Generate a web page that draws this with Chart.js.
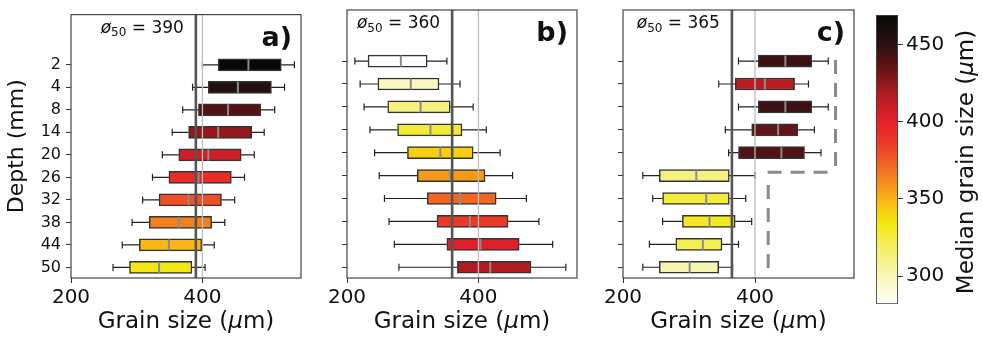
<!DOCTYPE html>
<html>
<head>
<meta charset="utf-8">
<script src="https://cdn.jsdelivr.net/npm/chart.js@4.4.1/dist/chart.umd.min.js"></script>
<style>
body { margin: 0; background: #fff; width: 983px; height: 337px; position: relative; overflow: hidden; }
canvas { position: absolute; top: 0; }
</style>
</head>
<body>
<canvas id="pa" width="310" height="337" style="left:0px"></canvas>
<canvas id="pb" width="266" height="337" style="left:320px"></canvas>
<canvas id="pc" width="263" height="337" style="left:596px"></canvas>
<canvas id="cb" width="123" height="337" style="left:860px"></canvas>
<script>
// depth categories (mm)
const depths = ['2', '4', '8', '14', '20', '26', '32', '38', '44', '50'];
const xTicks = [200, 400];
const cbTicks = [300, 350, 400, 450];

// panel a) whisker low, q1, median, q3, whisker high (µm)
const aLow  = [400, 385, 370, 354, 339, 324, 309, 293, 278, 264];
const aQ1   = [424, 409, 394, 379, 364, 349, 334, 319, 304, 289];
const aMed  = [470, 454, 439, 424, 409, 394, 379, 364, 349, 334];
const aQ3   = [520, 505, 489, 475, 459, 444, 429, 414, 399, 384];
const aHigh = [540, 525, 510, 494, 479, 464, 449, 434, 418, 404];
const aD50 = 390;

// panel b)
const bLow  = [212, 220, 226, 235, 242, 249, 257, 264, 272, 279];
const bQ1   = [232, 247, 262, 277, 292, 307, 322, 337, 352, 368];
const bMed  = [282, 297, 312, 327, 342, 357, 372, 387, 403, 418];
const bQ3   = [322, 340, 357, 375, 392, 410, 427, 445, 462, 480];
const bHigh = [352, 372, 392, 412, 433, 452, 473, 492, 513, 533];
const bD50 = 360;

// panel c)
const cLow  = [375, 345, 375, 355, 360, 230, 245, 260, 240, 230];
const cQ1   = [405, 370, 405, 395, 375, 255, 260, 290, 280, 255];
const cMed  = [446, 415, 446, 435, 440, 311, 326, 331, 321, 301];
const cQ3   = [486, 460, 486, 465, 475, 361, 361, 370, 350, 345];
const cHigh = [511, 481, 511, 490, 500, 400, 386, 395, 375, 366];
const cD50 = 365;
// dashed outline in c): three segments, grain size vs row index
const outlineX = [[522, 522], [510, 419], [420, 420]];
const outlineY = [[-0.05, 4.63], [4.85, 4.85], [5.41, 9.08]];

// colour scale of the median
const cbMin = 282, cbMax = 469;
const cmapStops = [
  [282, '#ffffff'], [305, '#f7f3a0'], [322, '#f4ee50'], [335, '#f3e60c'],
  [345, '#f8c512'], [358, '#f7961c'], [372, '#f06622'], [386, '#ec3a26'],
  [400, '#e8202a'], [418, '#b01b21'], [433, '#6a1414'], [450, '#2c1012'],
  [469, '#080808']
];

Chart.defaults.font.family = "'DejaVu Sans', sans-serif";
Chart.defaults.color = '#111';

function hex(c) {
  return [1, 3, 5].map(k => parseInt(c.substr(k, 2), 16));
}
function cmap(v) {
  if (v <= cmapStops[0][0]) return cmapStops[0][1];
  for (let k = 1; k < cmapStops.length; k++) {
    const [v1, c1] = cmapStops[k];
    if (v <= v1) {
      const [v0, c0] = cmapStops[k - 1];
      const t = (v - v0) / (v1 - v0);
      const a = hex(c0), b = hex(c1);
      return 'rgb(' + a.map((u, j) => Math.round(u + (b[j] - u) * t)).join(',') + ')';
    }
  }
  return cmapStops[cmapStops.length - 1][1];
}

// text made of pieces, some italic (for the µ)
function drawPieces(ctx, pieces, size, cx, y) {
  const fonts = pieces.map(p => (p[1] ? 'italic ' : '') + size + "px 'DejaVu Sans'");
  let w = 0;
  pieces.forEach((p, k) => { ctx.font = fonts[k]; w += ctx.measureText(p[0]).width; });
  let x = cx - w / 2;
  ctx.textAlign = 'left';
  ctx.textBaseline = 'alphabetic';
  pieces.forEach((p, k) => {
    ctx.font = fonts[k];
    ctx.fillText(p[0], x, y);
    x += ctx.measureText(p[0]).width;
  });
}
const umTitle = label => [[label + ' (', false], ['μ', true], ['m)', false]];

function boxPanel(id, low, q1, med, q3, high, d50, tag, showY, yWidth, padRight, outline) {
  const datasets = [{
    data: depths.map((d, i) => ({ x: [q1[i], q3[i]], y: i })),
    backgroundColor: med.map(cmap),
    borderColor: '#333',
    borderWidth: 1.5,
    borderSkipped: false,
    barThickness: 12
  }];

  const boxExtras = {
    id: 'boxExtras',
    afterDatasetsDraw(chart) {
      const { ctx, chartArea: a, scales: { x, y } } = chart;
      ctx.save();
      // whiskers + caps
      ctx.strokeStyle = '#222';
      ctx.lineWidth = 1.2;
      depths.forEach((d, i) => {
        const yp = y.getPixelForValue(i);
        const pl = x.getPixelForValue(low[i]), p1 = x.getPixelForValue(q1[i]);
        const p3 = x.getPixelForValue(q3[i]), ph = x.getPixelForValue(high[i]);
        ctx.beginPath();
        ctx.moveTo(pl, yp); ctx.lineTo(p1, yp);
        ctx.moveTo(p3, yp); ctx.lineTo(ph, yp);
        ctx.moveTo(pl, yp - 3.5); ctx.lineTo(pl, yp + 3.5);
        ctx.moveTo(ph, yp - 3.5); ctx.lineTo(ph, yp + 3.5);
        ctx.stroke();
      });
      // medians
      ctx.strokeStyle = '#8c8c8c';
      ctx.lineWidth = 2;
      depths.forEach((d, i) => {
        const yp = y.getPixelForValue(i);
        const pm = x.getPixelForValue(med[i]);
        ctx.beginPath();
        ctx.moveTo(pm, yp - 5.5); ctx.lineTo(pm, yp + 5.5);
        ctx.stroke();
      });
      // dashed outline
      if (outline) {
        ctx.strokeStyle = '#8a8a8a';
        ctx.lineWidth = 3;
        ctx.setLineDash([14, 9]);
        outlineX.forEach((sx, k) => {
          ctx.beginPath();
          ctx.moveTo(x.getPixelForValue(sx[0]), y.getPixelForValue(outlineY[k][0]));
          ctx.lineTo(x.getPixelForValue(sx[1]), y.getPixelForValue(outlineY[k][1]));
          ctx.stroke();
        });
        ctx.setLineDash([]);
      }
      // light line at 400 and d50 line
      ctx.strokeStyle = '#bdbdbd';
      ctx.lineWidth = 1.3;
      let px = x.getPixelForValue(400);
      ctx.beginPath(); ctx.moveTo(px, a.top); ctx.lineTo(px, a.bottom); ctx.stroke();
      ctx.strokeStyle = '#555';
      ctx.lineWidth = 2.6;
      const pd = x.getPixelForValue(d50);
      ctx.beginPath(); ctx.moveTo(pd, a.top); ctx.lineTo(pd, a.bottom); ctx.stroke();
      // frame
      ctx.strokeStyle = '#444';
      ctx.lineWidth = 1.2;
      ctx.strokeRect(a.left, a.top, a.width, a.height);
      // ø50 label, right-aligned left of the d50 line
      ctx.fillStyle = '#111';
      ctx.textBaseline = 'alphabetic';
      ctx.textAlign = 'left';
      const ty = a.top + 18;
      const f1 = "italic 17px 'DejaVu Sans'", f2 = "12px 'DejaVu Sans'", f3 = "17px 'DejaVu Sans'";
      const rest = ' = ' + d50;
      ctx.font = f1; const w1 = ctx.measureText('ø').width;
      ctx.font = f2; const w2 = ctx.measureText('50').width;
      ctx.font = f3; const w3 = ctx.measureText(rest).width;
      let tx = pd - 12 - (w1 + w2 + w3);
      ctx.font = f1; ctx.fillText('ø', tx, ty); tx += w1;
      ctx.font = f2; ctx.fillText('50', tx, ty + 3.5); tx += w2;
      ctx.font = f3; ctx.fillText(rest, tx, ty);
      // panel tag
      ctx.font = "bold 27px 'DejaVu Sans'";
      ctx.textAlign = 'right';
      ctx.fillText(tag, a.right - 9, a.top + 31);
      // x axis title
      drawPieces(ctx, umTitle('Grain size'), 23, (a.left + a.right) / 2, 328);
      ctx.restore();
    }
  };

  return new Chart(document.getElementById(id), {
    type: 'bar',
    data: { datasets: datasets },
    options: {
      indexAxis: 'y',
      responsive: false,
      animation: false,
      layout: { padding: { top: 10, right: padRight, bottom: 0, left: 0 } },
      plugins: { legend: { display: false }, tooltip: { enabled: false } },
      scales: {
        x: {
          type: 'linear',
          min: 200,
          max: 550,
          afterBuildTicks: s => { s.ticks = xTicks.map(v => ({ value: v })); },
          afterFit: s => { s.height = 59; },
          ticks: { font: { size: 20 }, color: '#111', padding: 3, maxRotation: 0 },
          grid: { drawOnChartArea: false, tickLength: 5, color: '#333' },
          border: { display: false }
        },
        y: {
          type: 'linear',
          min: -2.23,
          max: 9.47,
          reverse: true,
          offset: false,
          afterBuildTicks: s => { s.ticks = depths.map((d, i) => ({ value: i })); },
          afterFit: s => { s.width = yWidth; },
          ticks: {
            display: showY,
            autoSkip: false,
            font: { size: 16 },
            color: '#111',
            padding: 5,
            callback: v => depths[v]
          },
          grid: { drawOnChartArea: false, tickLength: 5, color: '#333', offset: false },
          border: { display: false },
          title: {
            display: showY,
            text: 'Depth (mm)',
            font: { size: 22 },
            color: '#111',
            padding: { top: 4, bottom: 0 }
          }
        }
      }
    },
    plugins: [boxExtras]
  });
}

boxPanel('pa', aLow, aQ1, aMed, aQ3, aHigh, aD50, 'a)', true, 71, 9, false);
boxPanel('pb', bLow, bQ1, bMed, bQ3, bHigh, bD50, 'b)', false, 27, 9, false);
boxPanel('pc', cLow, cQ1, cMed, cQ3, cHigh, cD50, 'c)', false, 27, 5, true);

// colour bar
const cbTitle = {
  id: 'cbTitle',
  afterDraw(chart) {
    const { ctx } = chart;
    ctx.save();
    ctx.translate(113, 162);
    ctx.rotate(-Math.PI / 2);
    ctx.fillStyle = '#111';
    drawPieces(ctx, umTitle('Median grain size'), 23, 0, 0);
    ctx.restore();
  }
};

new Chart(document.getElementById('cb'), {
  type: 'bar',
  data: {
    labels: [''],
    datasets: [{
      data: [[cbMin, cbMax]],
      backgroundColor: ctx => {
        const { chart } = ctx;
        const { chartArea, scales } = chart;
        if (!chartArea) return '#fff';
        const g = chart.ctx.createLinearGradient(0, scales.y.getPixelForValue(cbMin), 0, scales.y.getPixelForValue(cbMax));
        cmapStops.forEach(([v, c]) => g.addColorStop((v - cbMin) / (cbMax - cbMin), c));
        return g;
      },
      borderColor: '#444',
      borderWidth: 1.2,
      borderSkipped: false,
      barPercentage: 1,
      categoryPercentage: 1
    }]
  },
  options: {
    responsive: false,
    animation: false,
    layout: { padding: { top: 10, right: 0, bottom: 33, left: 16 } },
    plugins: { legend: { display: false }, tooltip: { enabled: false } },
    scales: {
      x: { display: false },
      y: {
        position: 'right',
        min: cbMin,
        max: cbMax,
        afterBuildTicks: s => { s.ticks = cbTicks.map(v => ({ value: v })); },
        afterFit: s => { s.width = 85; },
        ticks: { font: { size: 20 }, color: '#111', padding: 3 },
        grid: { drawOnChartArea: false, tickLength: 5, color: '#333' },
        border: { display: false }
      }
    }
  },
  plugins: [cbTitle]
});
</script>
</body>
</html>
